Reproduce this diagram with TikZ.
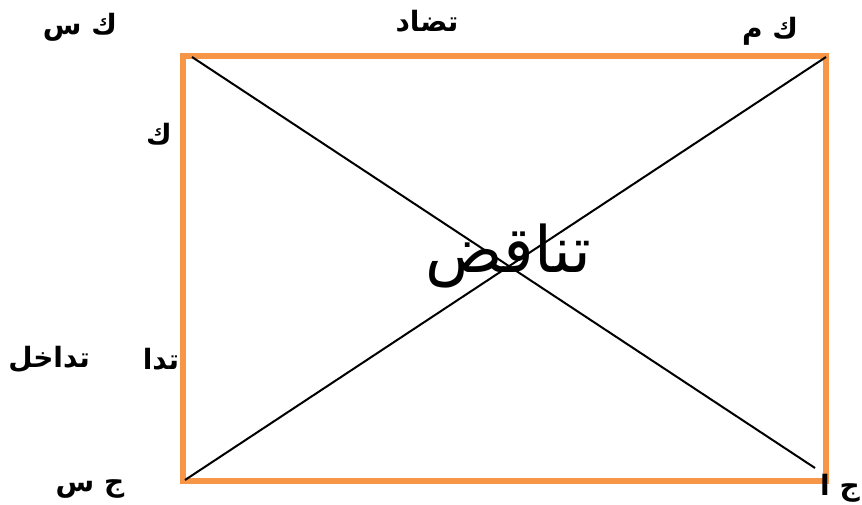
\documentclass[tikz,border=0pt]{standalone}
\usepackage{fontspec}
\TeXXeTstate=1
\newfontfamily\arabicfont[Script=Arabic]{DejaVu Sans}
\definecolor{boxorange}{HTML}{F79646}
\begin{document}
\begin{tikzpicture}[x=1pt,y=-1pt,
  lbl/.style={font=\arabicfont\bfseries\fontsize{28}{32}\selectfont, inner sep=0pt},
  big/.style={font=\arabicfont\fontsize{64}{70}\selectfont, inner sep=0pt},
  frame/.style={draw=boxorange, line width=5.5pt},
  diag/.style={draw=black, line width=2pt}]
\useasboundingbox (0,0) rectangle (862,504);
\coordinate (tl) at (183,56);
\coordinate (br) at (826,481);
\coordinate (d1s) at (192,57);
\coordinate (d1e) at (815,468);
\coordinate (d2s) at (185,480);
\coordinate (d2e) at (826,57);
\draw[frame] (tl) rectangle (br);
\draw[diag] (d1s) -- (d1e);
\draw[diag] (d2s) -- (d2e);
\node[big] (tanaqud) at (508,256) {\beginR تناقض\endR};
\node[lbl] (ks) at (80,27) {\beginR ك س\endR};
\node[lbl] (tadad) at (427,21) {\beginR تضاد\endR};
\node[lbl] (km) at (770,31) {\beginR ك م\endR};
\node[lbl] (k) at (159,134) {\beginR ك\endR};
\node[lbl] (tada) at (161,359) {\beginR تدا\endR};
\node[lbl] (tadakhul) at (49,359) {\beginR تداخل\endR};
\node[lbl] (js) at (90,489) {\beginR ج س\endR};
\node[lbl] (ja) at (840,488) {\beginR ج ا\endR};
\end{tikzpicture}
\end{document}
